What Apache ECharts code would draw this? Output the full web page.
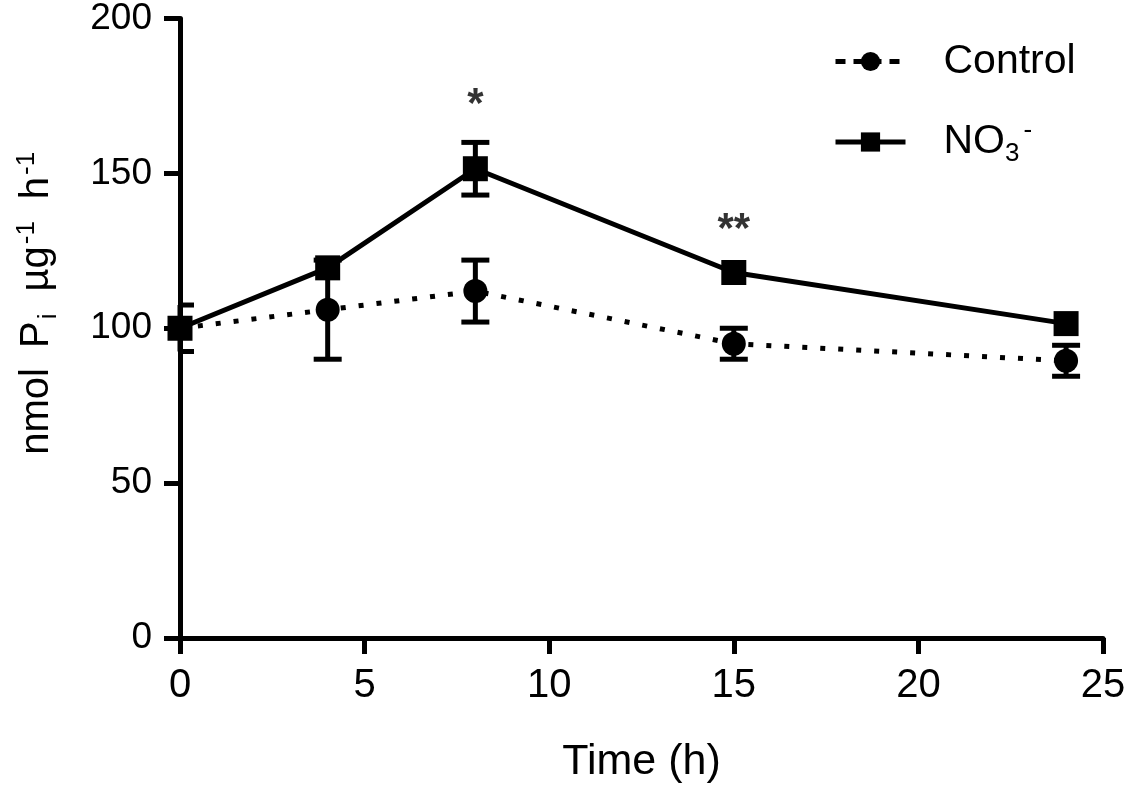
<!DOCTYPE html>
<html>
<head>
<meta charset="utf-8">
<script src="https://cdn.jsdelivr.net/npm/echarts@6/dist/echarts.min.js"></script>
<style>
  html, body { margin: 0; padding: 0; background: #fff; }
  #chart { width: 1134px; height: 797px; }
</style>
</head>
<body>
<div id="chart"></div>
<script>
var myChart = echarts.init(document.getElementById('chart'));

var times = [0, 4, 8, 15, 24];
var controlMean = [100, 106, 112, 95, 89.5];
var controlErr = [7.5, 16, 10, 5, 5];
var nitrateMean = [100, 119.5, 151.5, 118, 101.5];
var nitrateErr = [3, 3, 8.5, 3, 3];

// significance marks
var starTimes = [8, 15];
var starY = [172, 131.5];
var starText = ['*', '**'];

var font = 'Liberation Sans, Arial, sans-serif';

function pairs(xs, ys) {
    return xs.map(function (x, i) { return [x, ys[i]]; });
}

function errData(xs, m, e) {
    return xs.map(function (x, i) { return [x, m[i] - e[i], m[i] + e[i]]; });
}

function errorBars(xs, m, e) {
    return {
        type: 'custom',
        silent: true,
        z: 3,
        data: errData(xs, m, e),
        renderItem: function (params, api) {
            var lo = api.coord([api.value(0), api.value(1)]);
            var hi = api.coord([api.value(0), api.value(2)]);
            // bars shorter than the marker are hidden behind it
            if (Math.abs(lo[1] - hi[1]) / 2 < 13) {
                return { type: 'group', children: [] };
            }
            var w = 14;
            var left = Math.max(lo[0] - w, params.coordSys.x);
            var st = { stroke: '#000', lineWidth: 5 };
            return {
                type: 'group',
                children: [
                    { type: 'line', shape: { x1: lo[0], y1: lo[1], x2: hi[0], y2: hi[1] }, style: st },
                    { type: 'line', shape: { x1: left, y1: lo[1], x2: lo[0] + w, y2: lo[1] }, style: st },
                    { type: 'line', shape: { x1: left, y1: hi[1], x2: hi[0] + w, y2: hi[1] }, style: st }
                ]
            };
        }
    };
}

var option = {
    backgroundColor: '#fff',
    animation: false,
    grid: { left: 180, right: 31, top: 18, bottom: 159, containLabel: false },
    legend: {
        left: 828,
        top: 36,
        orient: 'vertical',
        itemWidth: 70,
        itemHeight: 24,
        itemGap: 36,
        data: [
            { name: 'Control', lineStyle: { width: 5, type: [10, 8] } },
            { name: 'NO3', lineStyle: { width: 5, type: 'solid' } }
        ],
        formatter: function (name) {
            return name === 'NO3' ? 'NO{sub|3}{sup|-}' : name;
        },
        textStyle: {
            fontFamily: font,
            fontSize: 41,
            color: '#000',
            padding: [0, 0, 0, 33],
            rich: {
                sub: { fontFamily: font, fontSize: 26, color: '#000', padding: [24, 0, 0, 0] },
                sup: { fontFamily: font, fontSize: 26, color: '#000', padding: [0, 0, 22, 4] }
            }
        }
    },
    xAxis: {
        type: 'value',
        min: 0,
        max: 25,
        interval: 5,
        name: 'Time (h)',
        nameLocation: 'middle',
        nameGap: 103,
        nameTextStyle: { fontFamily: font, fontSize: 43, color: '#000' },
        axisLine: { lineStyle: { color: '#000', width: 5 } },
        axisTick: { inside: false, length: 16, lineStyle: { color: '#000', width: 5 } },
        axisLabel: { margin: 28, fontFamily: font, fontSize: 40, color: '#000' },
        splitLine: { show: false }
    },
    yAxis: {
        type: 'value',
        min: 0,
        max: 200,
        interval: 50,
        name: 'nmol{g| }P{sub|i}{g| }µg{sup|-1}{g| }h{sup|-1}',
        nameLocation: 'middle',
        nameRotate: 90,
        nameGap: 118,
        nameTextStyle: {
            fontFamily: font,
            fontSize: 40,
            color: '#000',
            padding: [0, 0, 0, 52],
            rich: {
                g: { fontFamily: font, fontSize: 40, width: 20 },
                sub: { fontFamily: font, fontSize: 26, color: '#000', padding: [24, 2, 0, 2] },
                sup: { fontFamily: font, fontSize: 26, color: '#000', padding: [0, 2, 20, 2] }
            }
        },
        axisLine: { show: true, lineStyle: { color: '#000', width: 5 } },
        axisTick: { show: true, inside: false, length: 16, lineStyle: { color: '#000', width: 5 } },
        axisLabel: { margin: 28, fontFamily: font, fontSize: 37, color: '#000' },
        splitLine: { show: false }
    },
    series: [
        errorBars(times, controlMean, controlErr),
        errorBars(times, nitrateMean, nitrateErr),
        {
            name: 'Control',
            type: 'line',
            z: 4,
            clip: false,
            data: pairs(times, controlMean),
            symbol: 'circle',
            symbolSize: 24,
            itemStyle: { color: '#000' },
            lineStyle: { color: '#000', width: 5, type: [5, 13] }
        },
        {
            name: 'NO3',
            type: 'line',
            z: 5,
            clip: false,
            data: pairs(times, nitrateMean),
            symbol: 'rect',
            symbolSize: 25,
            itemStyle: { color: '#000' },
            lineStyle: { color: '#000', width: 5, type: 'solid' }
        },
        {
            type: 'scatter',
            silent: true,
            symbolSize: 0,
            data: starTimes.map(function (t, i) { return [t, starY[i], starText[i]]; }),
            label: {
                show: true,
                position: 'inside',
                formatter: function (p) { return p.value[2]; },
                fontFamily: font,
                fontSize: 42,
                fontWeight: 'bold',
                color: '#000',
                textBorderWidth: 0
            }
        }
    ]
};

myChart.setOption(option);
</script>
</body>
</html>
